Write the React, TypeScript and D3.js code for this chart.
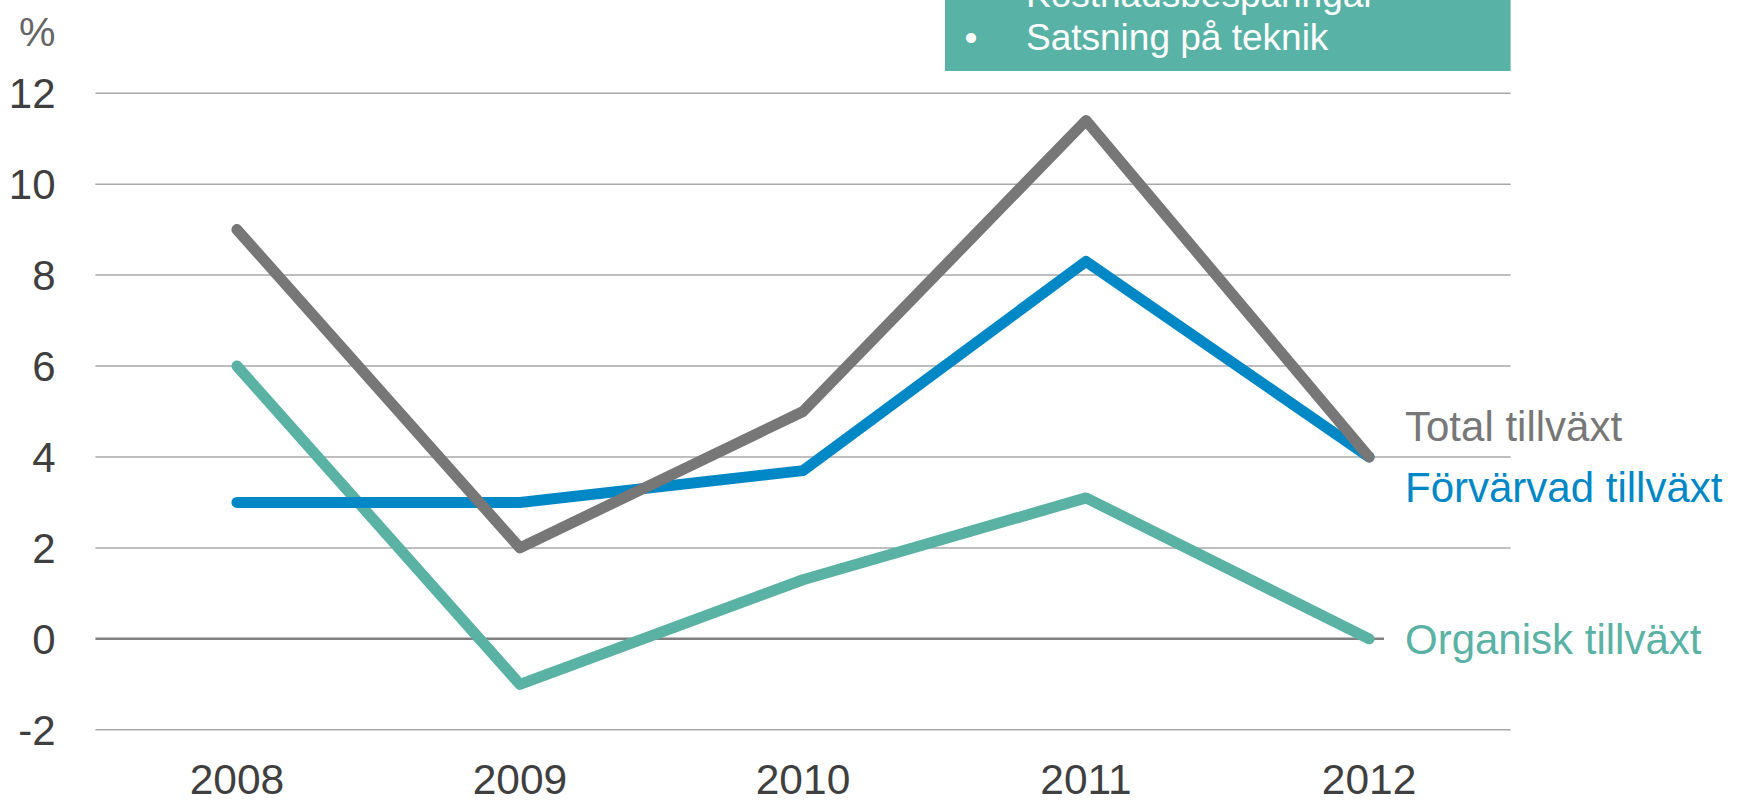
import React from "react";
import * as d3 from "d3";

const years = ["2008", "2009", "2010", "2011", "2012"];
const totalGrowth = [9, 2, 5, 11.4, 4];
const acquiredGrowth = [3, 3, 3.7, 8.3, 4];
const organicGrowth = [6, -1, 1.3, 3.1, 0];
const yTicks = [-2, 0, 2, 4, 6, 8, 10, 12];
const boxLines = ["Kostnadsbesparingar", "Satsning på teknik"];

const W = 1739;
const H = 801;
const FONT = "'Liberation Sans', Arial, Helvetica, sans-serif";

export default function App() {
  const x = d3.scalePoint<string>().domain(years).range([95.4, 1510.6]).padding(0.5);
  const y = d3.scaleLinear().domain([-2, 12]).range([729.8, 93.2]);
  const line = d3
    .line<number>()
    .x((_, i) => x(years[i]) as number)
    .y((d) => y(d));

  const series = [
    { name: "Total tillväxt", values: totalGrowth, color: "#777777", text: "#777777", baseline: 441 },
    { name: "Förvärvad tillväxt", values: acquiredGrowth, color: "#0088c6", text: "#0088c6", baseline: 502 },
    { name: "Organisk tillväxt", values: organicGrowth, color: "#5ab2a4", text: "#5ab2a4", baseline: 654 },
  ];
  const drawOrder = [series[2], series[1], series[0]];

  return (
    <svg
      width={W}
      height={H}
      style={{ position: "absolute", left: 0, top: 0, display: "block", background: "#fff" }}
      fontFamily={FONT}
    >
      {/* gridlines */}
      {yTicks.map((t) => (
        <line
          key={t}
          x1={95.4}
          x2={1510.6}
          y1={y(t)}
          y2={y(t)}
          stroke={t === 0 ? "#808080" : "#a8a8a8"}
          strokeWidth={t === 0 ? 2.5 : 1.5}
        />
      ))}
      {/* y tick labels */}
      {yTicks.map((t) => (
        <text key={"l" + t} x={55.5} y={y(t)} dy="0.36em" textAnchor="end" fontSize={42} fill="#3f3f3f">
          {t}
        </text>
      ))}
      <text x={55.5} y={46} textAnchor="end" fontSize={41} fill="#666666">
        %
      </text>
      {/* x labels */}
      {years.map((yr) => (
        <text key={yr} x={x(yr)} y={794} textAnchor="middle" fontSize={42.5} fill="#3f3f3f">
          {yr}
        </text>
      ))}
      {/* white backgrounds behind end labels */}
      {series.map((s) => (
        <rect key={"bg" + s.name} x={1384} y={s.baseline - 42} width={W - 1384} height={54} fill="#fff" />
      ))}
      {/* lines */}
      {drawOrder.map((s) => (
        <path
          key={s.name}
          d={line(s.values) || ""}
          fill="none"
          stroke={s.color}
          strokeWidth={11}
          strokeLinejoin="round"
          strokeLinecap="round"
        />
      ))}
      {/* end labels */}
      {series.map((s) => (
        <text key={"t" + s.name} x={1405} y={s.baseline} fontSize={42} fill={s.text}>
          {s.name}
        </text>
      ))}
      {/* top box */}
      <rect x={945} y={0} width={565.6} height={71} fill="#58b2a5" />
      {boxLines.map((l, i) => (
        <g key={l}>
          <text x={971} y={6.5 + i * 43} textAnchor="middle" fontSize={37} fill="#fff">
            •
          </text>
          <text x={1026} y={6.5 + i * 43} fontSize={37} fill="#fff">
            {l}
          </text>
        </g>
      ))}
    </svg>
  );
}
